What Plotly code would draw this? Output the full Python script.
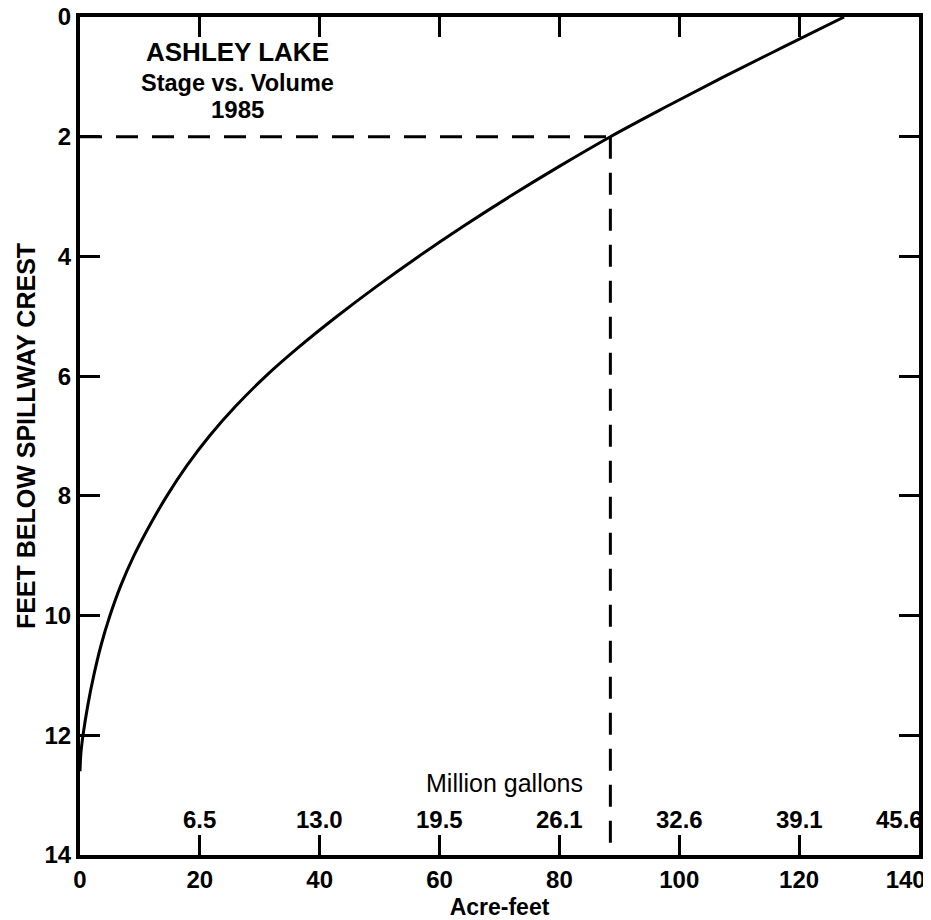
import plotly.graph_objects as go

# Stage (feet below spillway crest) vs. volume (acre-feet)
depth_ft = [0.0, 0.5, 1.0, 1.5, 2.0, 2.5, 3.0, 3.5, 4.0, 4.5, 5.0, 5.5, 6.0, 6.5,
            7.0, 7.5, 8.0, 8.5, 9.0, 9.5, 10.0, 10.5, 11.0, 11.5, 12.0, 12.3, 12.6]
volume_af = [127.5, 117.4, 107.4, 97.8, 88.5, 79.9, 71.7, 63.9, 56.5, 49.5, 42.9, 36.7, 31.0, 26.0,
             21.6, 17.8, 14.5, 11.6, 9.0, 6.8, 5.0, 3.5, 2.3, 1.3, 0.5, 0.15, 0.0]

# Reference dashed lines at 2 ft
ref_depth = 2.0
ref_volume = 88.5

# Axis ticks
x_ticks = [0, 20, 40, 60, 80, 100, 120, 140]
x_ticktext = ["0", "20", "40", "60", "80", "100", "120", "140\u00a0\u00a0\u00a0\u00a0"]
y_ticks = [0, 2, 4, 6, 8, 10, 12, 14]

# Million gallons labels at acre-feet positions
mg_positions = [20, 40, 60, 80, 100, 120, 140]
mg_labels = ["6.5", "13.0", "19.5", "26.1", "32.6", "39.1", "45.6"]

title_lines = ["ASHLEY LAKE", "Stage vs. Volume", "1985"]
title_sizes = [26, 23.5, 24]
title_ypos = [0.585, 1.10, 1.55]

FONT = "Liberation Sans"
DASH = "22px,14px"

fig = go.Figure()

fig.add_trace(go.Scatter(
    x=volume_af, y=depth_ft, mode="lines",
    line=dict(color="black", width=3, shape="spline", smoothing=1.0),
    showlegend=False, hoverinfo="skip"))

fig.add_trace(go.Scatter(
    x=[0, ref_volume], y=[ref_depth, ref_depth], mode="lines",
    line=dict(color="black", width=3, dash=DASH),
    showlegend=False, hoverinfo="skip"))

fig.add_trace(go.Scatter(
    x=[ref_volume, ref_volume], y=[ref_depth, 14], mode="lines",
    line=dict(color="black", width=3, dash=DASH),
    showlegend=False, hoverinfo="skip"))

axis_common = dict(
    showline=True, linecolor="black", linewidth=4, mirror="allticks",
    ticks="inside", ticklen=20, tickwidth=3, tickcolor="black",
    showgrid=False, zeroline=False, automargin=False,
    ticklabeloverflow="allow",
    tickfont=dict(family=FONT, size=24, color="black", weight="bold"),
)

fig.update_xaxes(
    range=[0, 140], tickvals=x_ticks, ticktext=x_ticktext,
    title=dict(text="Acre-feet", font=dict(family=FONT, size=23, color="black", weight="bold"), standoff=8),
    **axis_common)
fig.update_yaxes(
    range=[14, 0], tickvals=y_ticks, ticktext=[str(v) for v in y_ticks],
    title=dict(text="FEET BELOW SPILLWAY CREST", font=dict(family=FONT, size=25, color="black", weight="bold"), standoff=3),
    **axis_common)

# Million gallons secondary labels
for xp, lab in zip(mg_positions, mg_labels):
    last = xp == mg_positions[-1]
    fig.add_annotation(x=xp, y=13.4, text=lab, showarrow=False,
                       xanchor="right" if last else "center", yanchor="middle",
                       xshift=6 if last else 0,
                       font=dict(family=FONT, size=24, color="black", weight="bold"))
fig.add_annotation(x=70.9, y=12.8, text="Million gallons", showarrow=False,
                   xanchor="center", yanchor="middle",
                   font=dict(family=FONT, size=25, color="black"))

# Chart title block
for t, sz, yp in zip(title_lines, title_sizes, title_ypos):
    fig.add_annotation(x=26.25, y=yp, text=t, showarrow=False,
                       xanchor="center", yanchor="middle",
                       font=dict(family=FONT, size=sz, color="black", weight="bold"))

# The page body has an 8px margin, so the figure is sized to fit the window
fig.update_layout(
    width=923, height=912,
    margin=dict(l=72, r=12, t=9, b=65),
    plot_bgcolor="white", paper_bgcolor="white",
)

fig.write_html("out.html")
